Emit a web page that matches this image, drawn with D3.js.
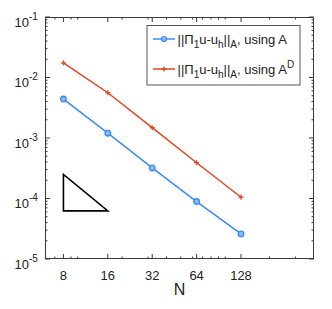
<!DOCTYPE html>
<html><head><meta charset="utf-8">
<script src="https://d3js.org/d3.v7.min.js"></script>
<style>body{margin:0;background:#fff}svg{display:block;font-family:"Liberation Sans",Arial,sans-serif}</style>
</head><body>
<script>
const N = [8, 16, 32, 64, 128];
const errA = [4.4e-3, 1.2e-3, 3.2e-4, 8.9e-5, 2.6e-5];
const errAD = [1.74e-2, 5.6e-3, 1.48e-3, 3.9e-4, 1.05e-4];
const xTicks = [8, 16, 32, 64, 128];
const yTicks = [-5, -4, -3, -2, -1];
const triN = [8, 8, 16];
const triE = [2.5e-4, 6.25e-5, 6.25e-5];

const W = 332, H = 309;
const m = {l: 45, r: 314, t: 17, b: 259};
const svg = d3.select("body").append("svg").attr("width", W).attr("height", H);
const x = d3.scaleLog().base(2).domain([6, 400]).range([m.l, m.r]);
const y = d3.scaleLog().domain([1e-5, 1e-1]).range([m.b, m.t]);
const axisCol = "#3a3a3a";
const blue = "#3b8bf5", red = "#e5441c";

// minor ticks
const xMinor = [];
for (const d of [1, 10, 100]) for (let k = 1; k <= 9; k++) { const v = k * d; if (v > 6 && v < 400 && !xTicks.includes(v)) xMinor.push(v); }
const yMinor = [];
for (let e = -5; e < -1; e++) for (let k = 2; k <= 9; k++) yMinor.push(k * Math.pow(10, e));

const g = svg.append("g").attr("stroke", axisCol).attr("stroke-width", 1).attr("fill", "none");
xTicks.forEach(v => {
  g.append("line").attr("x1", x(v)).attr("x2", x(v)).attr("y1", m.b).attr("y2", m.b - 5);
  g.append("line").attr("x1", x(v)).attr("x2", x(v)).attr("y1", m.t).attr("y2", m.t + 5);
});
xMinor.forEach(v => {
  g.append("line").attr("x1", x(v)).attr("x2", x(v)).attr("y1", m.b).attr("y2", m.b - 2.5);
  g.append("line").attr("x1", x(v)).attr("x2", x(v)).attr("y1", m.t).attr("y2", m.t + 2.5);
});
yTicks.forEach(e => {
  const yy = y(Math.pow(10, e));
  g.append("line").attr("x1", m.l).attr("x2", m.l + 5).attr("y1", yy).attr("y2", yy);
  g.append("line").attr("x1", m.r).attr("x2", m.r - 5).attr("y1", yy).attr("y2", yy);
});
yMinor.forEach(v => {
  const yy = y(v);
  g.append("line").attr("x1", m.l).attr("x2", m.l + 2.5).attr("y1", yy).attr("y2", yy);
  g.append("line").attr("x1", m.r).attr("x2", m.r - 2.5).attr("y1", yy).attr("y2", yy);
});
g.append("rect").attr("x", m.l + 0.5).attr("y", m.t + 0.5).attr("width", m.r - m.l - 1).attr("height", m.b - m.t - 1);

// tick labels
svg.append("g").selectAll("text").data(xTicks).join("text")
  .attr("x", d => x(d)).attr("y", 279.5).attr("text-anchor", "middle")
  .attr("font-size", 13).attr("fill", "#222").text(d => d);
const yl = svg.append("g").selectAll("text").data(yTicks).join("text")
  .attr("x", 14.5).attr("y", d => y(Math.pow(10, d)) + 9.5)
  .attr("font-size", 13).attr("fill", "#222");
yl.append("tspan").text("10");
yl.append("tspan").attr("dy", -7).attr("font-size", 10).text(d => d);

svg.append("text").attr("x", (m.l + m.r) / 2).attr("y", 295).attr("text-anchor", "middle")
  .attr("font-size", 16).attr("fill", "#222").text("N");

// lines
const line = d3.line().x((d, i) => x(N[i])).y(d => y(d));
svg.append("path").datum(errA).attr("d", line).attr("fill", "none").attr("stroke", blue).attr("stroke-width", 1.5);
svg.append("path").datum(errAD).attr("d", line).attr("fill", "none").attr("stroke", red).attr("stroke-width", 1.5);
svg.append("g").selectAll("circle").data(errA).join("circle")
  .attr("cx", (d, i) => x(N[i])).attr("cy", d => y(d)).attr("r", 2.8)
  .attr("fill", "#8fb9f5").attr("stroke", blue).attr("stroke-width", 1.3);
const plus = svg.append("g").attr("stroke", red).attr("stroke-width", 1.3);
errAD.forEach((d, i) => {
  const cx = x(N[i]), cy = y(d);
  plus.append("line").attr("x1", cx - 2.5).attr("x2", cx + 2.5).attr("y1", cy).attr("y2", cy);
  plus.append("line").attr("x1", cx).attr("x2", cx).attr("y1", cy - 2.5).attr("y2", cy + 2.5);
});

// triangle
svg.append("path").attr("d", d3.line().x((d, i) => x(triN[i])).y(d => y(d))(triE) + "Z")
  .attr("fill", "none").attr("stroke", "#000").attr("stroke-width", 1.6);

// legend
svg.append("rect").attr("x", 147).attr("y", 25.5).attr("width", 153).attr("height", 59.5)
  .attr("fill", "#fff").attr("stroke", "#555").attr("stroke-width", 1);
const rows = [{c: blue, y: 39, mk: "o", sup: ""}, {c: red, y: 69, mk: "+", sup: "D"}];
rows.forEach(r => {
  svg.append("line").attr("x1", 153).attr("x2", 175).attr("y1", r.y).attr("y2", r.y).attr("stroke", r.c).attr("stroke-width", 1.5);
  if (r.mk === "o") svg.append("circle").attr("cx", 164).attr("cy", r.y).attr("r", 2.5).attr("fill", "#8fb9f5").attr("stroke", r.c).attr("stroke-width", 1.2);
  else {
    svg.append("line").attr("x1", 161.5).attr("x2", 166.5).attr("y1", r.y).attr("y2", r.y).attr("stroke", r.c).attr("stroke-width", 1.3);
    svg.append("line").attr("x1", 164).attr("x2", 164).attr("y1", r.y - 2.5).attr("y2", r.y + 2.5).attr("stroke", r.c).attr("stroke-width", 1.3);
  }
  const t = svg.append("text").attr("x", 177.5).attr("y", r.y + 4.5).attr("font-size", 13).attr("fill", "#222");
  t.append("tspan").text("||Π");
  t.append("tspan").attr("dy", 4).attr("font-size", 10).text("1");
  t.append("tspan").attr("dy", -4).text("u-u");
  t.append("tspan").attr("dy", 4).attr("font-size", 10).text("h");
  t.append("tspan").attr("dy", -4).text("||");
  t.append("tspan").attr("dy", 4).attr("font-size", 10).text("A");
  t.append("tspan").attr("dy", -4).text(", using A");
  if (r.sup) t.append("tspan").attr("dy", -6).attr("font-size", 10).text(r.sup);
});
</script>
</body></html>
